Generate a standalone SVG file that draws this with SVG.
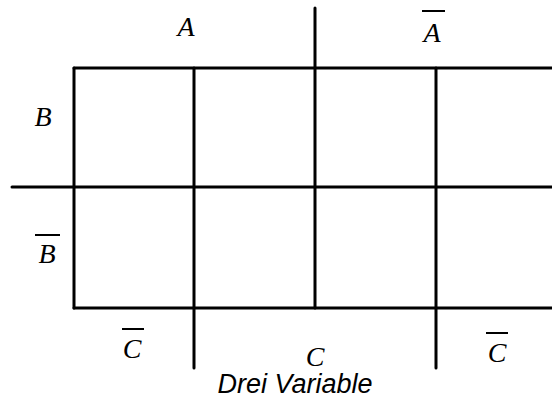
<svg xmlns="http://www.w3.org/2000/svg" width="552" height="403" viewBox="0 0 552 403">
<style>
.g{stroke:#000;stroke-width:3;stroke-linecap:round;fill:none}
.v{font-family:"Liberation Serif",serif;font-style:italic;font-size:28px;fill:#000;text-anchor:middle}
.ov{stroke:#000;stroke-width:2}
.cap{font-family:"Liberation Sans",sans-serif;font-style:italic;font-size:27px;fill:#000;text-anchor:middle}
</style>
<rect width="552" height="403" fill="#fff"/>
<g id="grid" class="g">
<line x1="74" y1="68" x2="552" y2="68"/>
<line x1="12" y1="187" x2="552" y2="187"/>
<line x1="74" y1="308" x2="552" y2="308"/>
<line x1="74" y1="68" x2="74" y2="308"/>
<line x1="194" y1="68" x2="194" y2="368"/>
<line x1="315" y1="8" x2="315" y2="308"/>
<line x1="436" y1="68" x2="436" y2="368"/>
</g>
<g id="labelA"><text class="v" x="186" y="36">A</text></g>
<g id="labelAbar"><text class="v" x="432" y="42">A</text><line class="ov" x1="422" y1="11" x2="445" y2="11"/></g>
<g id="labelB"><text class="v" x="43" y="126">B</text></g>
<g id="labelBbar"><text class="v" x="47" y="263">B</text><line class="ov" x1="35" y1="235" x2="60" y2="235"/></g>
<g id="labelCbar1"><text class="v" x="132" y="358">C</text><line class="ov" x1="122" y1="329" x2="144" y2="329"/></g>
<g id="labelC"><text class="v" x="315" y="366">C</text></g>
<g id="labelCbar2"><text class="v" x="497" y="362">C</text><line class="ov" x1="486" y1="333" x2="508" y2="333"/></g>
<g id="caption"><text class="cap" x="295" y="393">Drei Variable</text></g>
</svg>
